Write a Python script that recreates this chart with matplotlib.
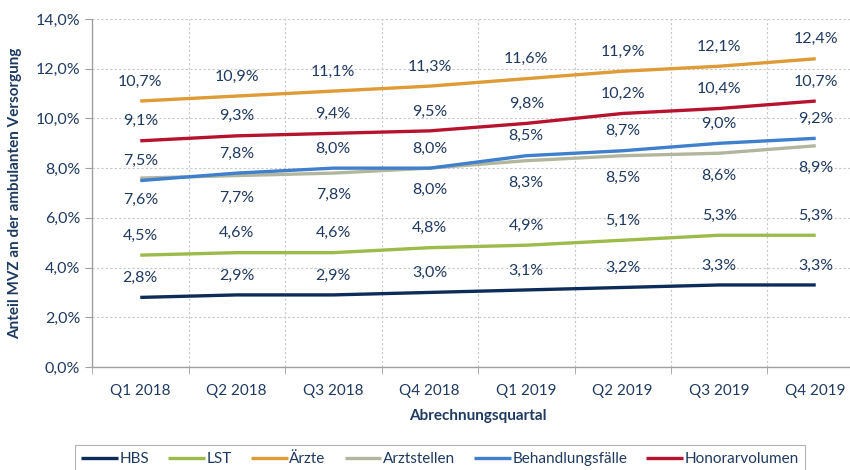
import numpy as np
import matplotlib
matplotlib.use("Agg")
import matplotlib.pyplot as plt
from matplotlib.ticker import FuncFormatter, FixedLocator

quarters = ["Q1 2018", "Q2 2018", "Q3 2018", "Q4 2018",
            "Q1 2019", "Q2 2019", "Q3 2019", "Q4 2019"]

hbs = [2.8, 2.9, 2.9, 3.0, 3.1, 3.2, 3.3, 3.3]
lst = [4.5, 4.6, 4.6, 4.8, 4.9, 5.1, 5.3, 5.3]
aerzte = [10.7, 10.9, 11.1, 11.3, 11.6, 11.9, 12.1, 12.4]
arztstellen = [7.6, 7.7, 7.8, 8.0, 8.3, 8.5, 8.6, 8.9]
behandlungsfaelle = [7.5, 7.8, 8.0, 8.0, 8.5, 8.7, 9.0, 9.2]
honorarvolumen = [9.1, 9.3, 9.4, 9.5, 9.8, 10.2, 10.4, 10.7]

series = [
    ("HBS", hbs, "#0E2C5A", "above"),
    ("LST", lst, "#9DBB4A", "above"),
    ("Ärzte", aerzte, "#DE9B36", "above"),
    ("Arztstellen", arztstellen, "#B3B69E", "below"),
    ("Behandlungsfälle", behandlungsfaelle, "#3F7FCC", "above"),
    ("Honorarvolumen", honorarvolumen, "#B8132E", "above"),
]

text_col = "#1F3A60"
plt.rcParams['font.family'] = ['Lato', 'DejaVu Sans']

fig = plt.figure(figsize=(8.5, 4.7), dpi=100)
ax = fig.add_axes([92 / 850, 1 - 367 / 470, 772 / 850, 348 / 470])

x = np.arange(len(quarters))
for name, vals, col, pos in series:
    ax.plot(x, vals, color=col, lw=2.4, label=name, solid_capstyle='butt')
    for xi, v in zip(x, vals):
        lab = f"{v:.1f}%".replace(".", ",")
        dy = 14 if pos == "above" else -16
        ax.annotate(lab, (xi, v), xytext=(0, dy), textcoords="offset points",
                    ha="center", va="center", fontsize=11.5, color=text_col)

ax.set_xlim(-0.5, len(quarters) - 0.5)
ax.set_ylim(0, 14)
ax.set_yticks(np.arange(0, 14.1, 2))
ax.yaxis.set_major_formatter(FuncFormatter(lambda v, p: f"{v:.1f}%".replace(".", ",")))
ax.set_xticks(x)
ax.set_xticklabels(quarters)
ax.xaxis.set_minor_locator(FixedLocator(np.arange(-0.5, len(quarters), 1)))
ax.tick_params(axis="x", which="major", length=0, pad=12, labelsize=11, labelcolor=text_col)
ax.tick_params(axis="x", which="minor", length=5, color="#A0A0A0")
ax.tick_params(axis="y", length=5, color="#A0A0A0", labelsize=11.5, labelcolor=text_col)

ax.grid(axis="y", which="major", color="#C8C8C8", ls=(0, (2, 2)), lw=0.8)
ax.grid(axis="x", which="minor", color="#C8C8C8", ls=(0, (2, 2)), lw=0.8)
ax.set_axisbelow(True)
for s in ["top", "right"]:
    ax.spines[s].set_visible(False)
for s in ["left", "bottom"]:
    ax.spines[s].set_color("#A0A0A0")
    ax.spines[s].set_linewidth(1.0)

ax.set_xlabel("Abrechnungsquartal", fontsize=11, fontweight="bold", color=text_col, labelpad=8)
ax.set_ylabel("Anteil MVZ an der ambulanten Versorgung", fontsize=11,
              fontweight="bold", color=text_col, labelpad=10)

leg = fig.legend(loc="center", bbox_to_anchor=(440 / 850, 1 - 459 / 470),
                 ncol=6, frameon=True, fancybox=False, fontsize=11,
                 handlelength=2.4, handletextpad=0.1, columnspacing=1.25,
                 borderpad=0.45, borderaxespad=0)
leg.get_frame().set_edgecolor("#A0A0A0")
leg.get_frame().set_linewidth(0.8)
for t in leg.get_texts():
    t.set_color(text_col)

fig.savefig("out.png", dpi=100)
